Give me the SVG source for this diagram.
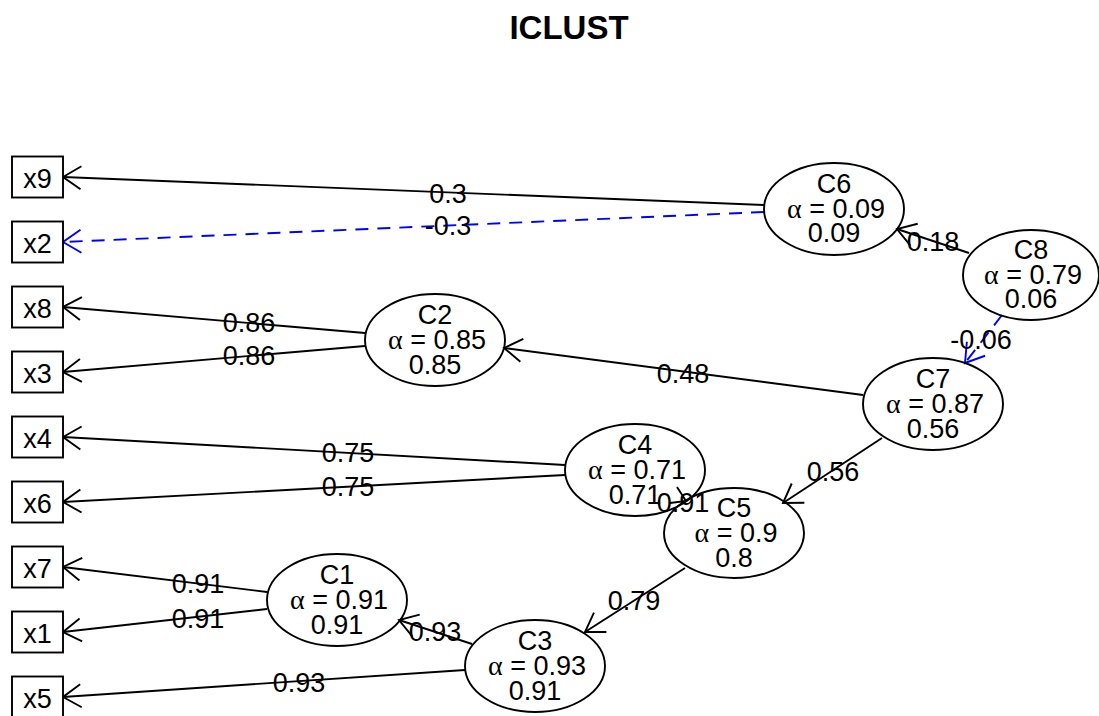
<svg xmlns="http://www.w3.org/2000/svg" width="1099" height="716" viewBox="0 0 1099 716">
  <style>
    text { font-family: "Liberation Sans", Arial, sans-serif; font-size: 27px; fill: #000; text-anchor: middle; }
    .title { font-size: 33px; font-weight: bold; }
    .alpha { font-family: "Liberation Serif", "DejaVu Serif", serif; font-size: 28px; }
    .box { fill: #fff; stroke: #000; stroke-width: 1.9; }
    .clus { fill: none; stroke: #000; stroke-width: 1.9; }
    .pos { fill: none; stroke: #000; stroke-width: 1.9; marker-end: url(#ah); }
    .neg { fill: none; stroke: #0000ff; stroke-width: 1.9; stroke-dasharray: 13 9; marker-end: url(#ahb); }
  </style>
  <defs>
    <marker id="ah" markerUnits="userSpaceOnUse" viewBox="-25 -15 30 30" markerWidth="30" markerHeight="30" refX="0" refY="0" orient="auto" overflow="visible">
      <path d="M-18,-11.5 L0,0 L-18,11.5" fill="none" stroke="#000" stroke-width="1.9"/>
    </marker>
    <marker id="ahb" markerUnits="userSpaceOnUse" viewBox="-25 -15 30 30" markerWidth="30" markerHeight="30" refX="0" refY="0" orient="auto" overflow="visible">
      <path d="M-18,-11.5 L0,0 L-18,11.5" fill="none" stroke="#0000ff" stroke-width="1.9"/>
    </marker>
  </defs>

  <rect width="1099" height="716" fill="#fff"/>
  <text class="title" x="569" y="39">ICLUST</text>

  <!-- connectors -->
  <g id="connectors">
    <path class="pos" d="M764,205 L63,177"/>
    <path class="neg" d="M764,212 L63,242"/>
    <path class="pos" d="M969,253 L897,229"/>
    <path class="neg" d="M1002,315 L965,363"/>
    <path class="pos" d="M863,395 L504,348"/>
    <path class="pos" d="M882,438 L783,503"/>
    <path class="pos" d="M365,333 L63,307"/>
    <path class="pos" d="M365,346 L63,372"/>
    <path class="pos" d="M565,465 L63,437"/>
    <path class="pos" d="M565,475 L63,502"/>
    <path d="M677,487 L686,501 L670,503" fill="none" stroke="#000" stroke-width="1.9"/>
    <path class="pos" d="M685,568 L585,632"/>
    <path class="pos" d="M472,644 L399,620"/>
    <path class="pos" d="M465,670 L63,697"/>
    <path class="pos" d="M267,592 L63,567"/>
    <path class="pos" d="M267,609 L63,632"/>

    <text x="448" y="203">0.3</text>
    <text x="448" y="235">-0.3</text>
    <text x="933" y="251">0.18</text>
    <text x="981" y="349">-0.06</text>
    <text x="683" y="383">0.48</text>
    <text x="833" y="481">0.56</text>
    <text x="249" y="332">0.86</text>
    <text x="249" y="365">0.86</text>
    <text x="348" y="462">0.75</text>
    <text x="348" y="496">0.75</text>
    <text x="683" y="512">0.91</text>
    <text x="634" y="610">0.79</text>
    <text x="435" y="641">0.93</text>
    <text x="299" y="692">0.93</text>
    <text x="198" y="593">0.91</text>
    <text x="198" y="628">0.91</text>
  </g>

  <!-- observed variables -->
  <g id="x9"><rect class="box" x="12" y="156.5" width="51" height="41"/><text x="37.5" y="188">x9</text></g>
  <g id="x2"><rect class="box" x="12" y="221.5" width="51" height="41"/><text x="37.5" y="253">x2</text></g>
  <g id="x8"><rect class="box" x="12" y="286.5" width="51" height="41"/><text x="37.5" y="318">x8</text></g>
  <g id="x3"><rect class="box" x="12" y="351.5" width="51" height="41"/><text x="37.5" y="383">x3</text></g>
  <g id="x4"><rect class="box" x="12" y="416.5" width="51" height="41"/><text x="37.5" y="448">x4</text></g>
  <g id="x6"><rect class="box" x="12" y="481.5" width="51" height="41"/><text x="37.5" y="513">x6</text></g>
  <g id="x7"><rect class="box" x="12" y="546.5" width="51" height="41"/><text x="37.5" y="578">x7</text></g>
  <g id="x1"><rect class="box" x="12" y="611.5" width="51" height="41"/><text x="37.5" y="643">x1</text></g>
  <g id="x5"><rect class="box" x="12" y="676.5" width="51" height="41"/><text x="37.5" y="708">x5</text></g>

  <!-- clusters -->
  <g id="C6"><ellipse class="clus" cx="834" cy="209" rx="70" ry="46"/>
    <text x="834" y="193">C6</text><text x="836" y="218"><tspan class="alpha">α</tspan> = 0.09</text><text x="834" y="242">0.09</text></g>
  <g id="C8"><ellipse class="clus" cx="1031" cy="275" rx="68" ry="45"/>
    <text x="1031" y="259">C8</text><text x="1033" y="284"><tspan class="alpha">α</tspan> = 0.79</text><text x="1031" y="308">0.06</text></g>
  <g id="C7"><ellipse class="clus" cx="933" cy="404" rx="70" ry="46"/>
    <text x="933" y="388">C7</text><text x="935" y="413"><tspan class="alpha">α</tspan> = 0.87</text><text x="933" y="438">0.56</text></g>
  <g id="C2"><ellipse class="clus" cx="435" cy="340" rx="70" ry="46"/>
    <text x="435" y="324">C2</text><text x="437" y="349"><tspan class="alpha">α</tspan> = 0.85</text><text x="435" y="374">0.85</text></g>
  <g id="C4"><ellipse class="clus" cx="635" cy="470" rx="70" ry="46"/>
    <text x="635" y="454">C4</text><text x="637" y="479"><tspan class="alpha">α</tspan> = 0.71</text><text x="635" y="504">0.71</text></g>
  <g id="C5"><ellipse class="clus" cx="734" cy="533" rx="70" ry="45"/>
    <text x="734" y="517">C5</text><text x="736" y="542"><tspan class="alpha">α</tspan> = 0.9</text><text x="734" y="567">0.8</text></g>
  <g id="C1"><ellipse class="clus" cx="337" cy="600" rx="70" ry="46"/>
    <text x="337" y="584">C1</text><text x="339" y="609"><tspan class="alpha">α</tspan> = 0.91</text><text x="337" y="634">0.91</text></g>
  <g id="C3"><ellipse class="clus" cx="535" cy="666" rx="70" ry="46"/>
    <text x="535" y="650">C3</text><text x="537" y="675"><tspan class="alpha">α</tspan> = 0.93</text><text x="535" y="700">0.91</text></g>
</svg>
